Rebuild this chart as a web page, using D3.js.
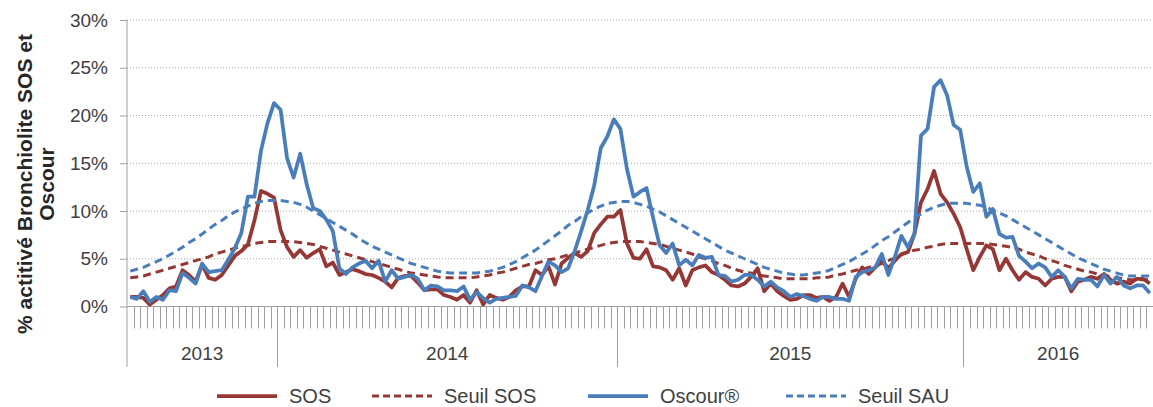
<!DOCTYPE html>
<html>
<head>
<meta charset="utf-8">
<script src="https://cdn.jsdelivr.net/npm/d3@7"></script>
<style>
body { margin: 0; background: #fff; }
svg { display: block; font-family: 'Liberation Sans', Arial, sans-serif; }
</style>
</head>
<body>
<div id="chart"></div>
<script>
// categories: weekly, from 2013-S30 to 2016-S29
const yearLabels = ['2013', '2014', '2015', '2016']
const firstWeeks = [30, 1, 1, 1]
const lastWeeks = [52, 52, 53, 29]
const yTicks = [0, 5, 10, 15, 20, 25, 30]

// % activité bronchiolite
const sos = [
    1.0, 1.0, 0.9, 0.2, 0.7, 1.2, 1.9, 2.1, 3.8, 3.3,
    2.6, 4.4, 3.0, 2.8, 3.3, 4.3, 5.3, 5.8, 6.5, 9.0,
    12.1, 11.8, 11.4, 8.0, 6.2, 5.2, 5.9, 5.1, 5.6, 6.0,
    4.2, 4.6, 3.3, 3.6, 3.9, 3.7, 3.4, 3.3, 3.0, 2.6,
    2.0, 3.0, 3.2, 3.2, 2.5, 1.7, 1.8, 1.8, 1.2, 1.0,
    0.7, 1.2, 0.4, 1.7, 0.2, 1.2, 0.9, 0.7, 1.0, 1.7,
    2.1, 2.1, 3.8, 3.3, 4.2, 2.3, 4.5, 5.1, 5.6, 5.2,
    5.8, 7.7, 8.6, 9.4, 9.4, 10.1, 6.6, 5.1, 5.0, 6.0,
    4.2, 4.1, 3.8, 2.8, 4.0, 2.2, 3.8, 4.1, 4.3, 3.6,
    3.3, 2.8, 2.2, 2.1, 2.4, 3.1, 4.0, 1.6, 2.4, 1.6,
    1.1, 0.7, 0.8, 1.2, 1.2, 0.9, 1.0, 0.6, 1.0, 2.4,
    1.0, 2.9, 4.1, 3.4, 4.1, 4.8, 4.0, 4.8, 5.5, 5.7,
    7.6, 10.9, 12.3, 14.2, 11.8, 10.9, 9.7, 8.3, 6.0, 3.8,
    5.2, 6.4, 6.0, 3.8, 5.0, 3.8, 2.8, 3.6, 3.1, 2.9,
    2.2, 2.9, 3.1, 3.1, 1.6, 2.6, 2.8, 3.1, 2.9, 3.4,
    2.8, 2.4, 2.6, 2.4, 2.9, 2.9, 2.4
]
const seuilSos = [
    3.0, 3.1, 3.2, 3.4, 3.6, 3.8, 4.0, 4.2, 4.4, 4.6,
    4.8, 5.0, 5.2, 5.5, 5.7, 5.9, 6.1, 6.3, 6.4, 6.6,
    6.7, 6.8, 6.8, 6.8, 6.8, 6.8, 6.7, 6.6, 6.5, 6.3,
    6.1, 5.9, 5.7, 5.5, 5.3, 5.1, 4.9, 4.7, 4.5, 4.3,
    4.1, 3.9, 3.7, 3.5, 3.4, 3.3, 3.2, 3.1, 3.0, 3.0,
    3.0, 3.0, 3.0, 3.1, 3.2, 3.3, 3.5, 3.6, 3.8, 4.0,
    4.2, 4.4, 4.5, 4.7, 4.9, 5.0, 5.2, 5.4, 5.6, 5.8,
    6.0, 6.2, 6.4, 6.6, 6.7, 6.8, 6.8, 6.8, 6.8, 6.7,
    6.6, 6.5, 6.3, 6.1, 5.9, 5.7, 5.5, 5.2, 5.0, 4.8,
    4.5, 4.3, 4.0, 3.8, 3.6, 3.5, 3.3, 3.2, 3.1, 3.0,
    2.9, 2.9, 2.9, 2.9, 2.9, 3.0, 3.0, 3.1, 3.3, 3.4,
    3.6, 3.8, 3.9, 4.1, 4.3, 4.5, 4.8, 5.1, 5.4, 5.7,
    5.9, 6.0, 6.2, 6.3, 6.5, 6.6, 6.6, 6.6, 6.6, 6.6,
    6.6, 6.6, 6.5, 6.4, 6.3, 6.2, 6.0, 5.7, 5.5, 5.3,
    5.0, 4.8, 4.6, 4.3, 4.1, 3.9, 3.7, 3.6, 3.4, 3.3,
    3.1, 3.0, 2.9, 2.8, 2.8, 2.8, 2.8
]
const oscour = [
    1.0, 0.8, 1.6, 0.5, 1.0, 0.7, 1.7, 1.6, 3.5, 3.0,
    2.4, 4.5, 3.6, 3.7, 3.8, 4.9, 6.1, 7.7, 11.5, 11.5,
    16.3, 19.2, 21.3, 20.6, 15.5, 13.5, 16.0, 12.8, 10.3, 10.0,
    9.1, 7.9, 4.0, 3.4, 4.1, 4.5, 4.8, 4.0, 4.8, 2.6,
    3.8, 2.9, 3.1, 3.3, 2.9, 1.7, 2.2, 2.1, 1.7, 1.7,
    1.6, 2.1, 0.7, 1.5, 0.9, 0.4, 0.8, 0.9, 1.0, 1.1,
    2.2, 2.0, 1.6, 3.2, 4.7, 4.3, 3.6, 4.0, 5.8, 7.9,
    10.1, 12.7, 16.6, 17.8, 19.6, 18.6, 14.4, 11.5, 12.0, 12.4,
    9.3, 6.4, 5.6, 6.6, 4.3, 4.9, 4.3, 5.4, 5.1, 5.2,
    3.3, 3.2, 2.6, 2.8, 3.3, 3.3, 2.8, 2.1, 2.6, 2.0,
    1.6, 1.0, 1.3, 1.1, 0.8, 0.6, 1.0, 1.0, 0.8, 0.8,
    0.6, 3.1, 3.6, 3.8, 4.1, 5.5, 3.3, 5.2, 7.4, 6.2,
    7.6, 17.9, 18.6, 23.0, 23.7, 22.1, 19.0, 18.5, 14.6, 12.0,
    12.9, 9.4, 10.2, 7.6, 7.2, 7.3, 5.3, 4.7, 4.0, 4.5,
    4.1, 3.1, 3.8, 3.1, 1.9, 2.9, 2.8, 2.8, 2.1, 3.3,
    2.4, 3.1, 2.2, 1.9, 2.2, 2.2, 1.4
]
const seuilSau = [
    3.7, 3.9, 4.1, 4.4, 4.7, 5.0, 5.4, 5.8, 6.2, 6.7,
    7.1, 7.6, 8.1, 8.6, 9.0, 9.5, 9.9, 10.2, 10.5, 10.8,
    11.0, 11.1, 11.1, 11.1, 11.0, 10.9, 10.7, 10.4, 10.0, 9.6,
    9.2, 8.8, 8.4, 8.0, 7.6, 7.1, 6.7, 6.3, 6.0, 5.7,
    5.4, 5.1, 4.8, 4.5, 4.3, 4.1, 3.9, 3.7, 3.6, 3.5,
    3.5, 3.5, 3.5, 3.5, 3.6, 3.7, 3.9, 4.1, 4.4, 4.7,
    5.1, 5.5, 5.9, 6.4, 6.9, 7.4, 7.9, 8.5, 8.9, 9.4,
    9.8, 10.2, 10.5, 10.8, 10.9, 11.0, 11.0, 10.9, 10.7, 10.5,
    10.2, 9.9, 9.5, 9.1, 8.7, 8.3, 7.9, 7.5, 7.1, 6.7,
    6.3, 5.9, 5.6, 5.3, 5.0, 4.7, 4.4, 4.1, 3.9, 3.7,
    3.5, 3.4, 3.3, 3.3, 3.4, 3.5, 3.6, 3.8, 4.1, 4.4,
    4.7, 5.1, 5.5, 5.9, 6.4, 6.9, 7.3, 7.8, 8.3, 8.8,
    9.3, 9.7, 10.1, 10.4, 10.6, 10.8, 10.8, 10.8, 10.8, 10.7,
    10.6, 10.4, 10.1, 9.8, 9.5, 9.1, 8.7, 8.3, 7.9, 7.5,
    7.1, 6.7, 6.3, 5.9, 5.5, 5.1, 4.8, 4.5, 4.2, 3.9,
    3.7, 3.5, 3.3, 3.2, 3.2, 3.2, 3.2
]

const weeks = []
yearLabels.forEach((yr, k) => {
    for (let w = firstWeeks[k]; w <= lastWeeks[k]; w++) weeks.push(yr + '-S' + w)
})

const red = '#953735'
const blue = '#4a7ebb'
const series = [
    { name: 'SOS', values: sos, color: red, dash: null },
    { name: 'Seuil SOS', values: seuilSos, color: red, dash: '8,5' },
    { name: 'Oscour\u00AE', values: oscour, color: blue, dash: null },
    { name: 'Seuil SAU', values: seuilSau, color: blue, dash: '8,5' }
]

const W = 1153, H = 407
const plotLeft = 127, plotRight = 1153, plotTop = 20, plotBottom = 306.5
const axisGrey = '#a0a0a0'

const x = d3.scaleBand().domain(weeks).range([plotLeft, plotRight]).padding(0)
const y = d3.scaleLinear().domain([0, 30]).range([plotBottom, plotTop])

const svg = d3.select('#chart')
    .append('svg')
    .attr('width', W)
    .attr('height', H)

// dotted gridlines
svg.append('g')
    .selectAll('line')
    .data(yTicks.filter(d => d > 0))
    .enter()
    .append('line')
    .attr('x1', plotLeft)
    .attr('x2', plotRight)
    .attr('y1', d => y(d))
    .attr('y2', d => y(d))
    .attr('stroke', '#a6a6a6')
    .attr('stroke-width', 1)
    .attr('stroke-dasharray', '1,2')

// y axis
const yAxis = d3.axisLeft(y).tickValues(yTicks).tickFormat(d => d + '%').tickSize(7).tickSizeOuter(0).tickPadding(12)
const gy = svg.append('g')
    .attr('transform', `translate(${plotLeft},0)`)
    .call(yAxis)
gy.select('.domain').remove()
gy.selectAll('line').attr('stroke', axisGrey)
gy.selectAll('text')
    .style('font-size', '19px')
    .style('font-family', "'Liberation Sans', Arial, sans-serif")
    .attr('fill', '#404040')

svg.append('line')
    .attr('x1', plotLeft).attr('x2', plotLeft)
    .attr('y1', plotTop).attr('y2', 367)
    .attr('stroke', axisGrey)

// x axis: baseline, weekly ticks, year separators and labels
svg.append('line')
    .attr('x1', plotLeft).attr('x2', plotRight)
    .attr('y1', plotBottom).attr('y2', plotBottom)
    .attr('stroke', axisGrey)

svg.append('g')
    .selectAll('line')
    .data(weeks.slice(1))
    .enter()
    .append('line')
    .attr('x1', d => Math.round(x(d)) + 0.5)
    .attr('x2', d => Math.round(x(d)) + 0.5)
    .attr('y1', plotBottom)
    .attr('y2', plotBottom + 22)
    .attr('stroke', axisGrey)

const yearStarts = yearLabels.map((yr, k) => yr + '-S' + firstWeeks[k])
const yearEnds = yearLabels.map((yr, k) => yr + '-S' + lastWeeks[k])

svg.append('g')
    .selectAll('line')
    .data(yearStarts.slice(1))
    .enter()
    .append('line')
    .attr('x1', d => Math.round(x(d)) + 0.5)
    .attr('x2', d => Math.round(x(d)) + 0.5)
    .attr('y1', plotBottom)
    .attr('y2', 367)
    .attr('stroke', axisGrey)

svg.append('g')
    .selectAll('text')
    .data(yearLabels)
    .enter()
    .append('text')
    .attr('x', (d, k) => (x(yearStarts[k]) + x(yearEnds[k]) + x.bandwidth()) / 2)
    .attr('y', 359.5)
    .attr('text-anchor', 'middle')
    .style('font-size', '19px')
    .attr('fill', '#404040')
    .text(d => d)

// y title
const titleLines = ['% actitivé Bronchiolite SOS et', 'Oscour']
svg.append('g')
    .selectAll('text')
    .data(titleLines)
    .enter()
    .append('text')
    .attr('transform', (d, i) => `translate(${32 + i * 21.5},184) rotate(-90)`)
    .attr('text-anchor', 'middle')
    .style('font-size', '21px')
    .style('font-weight', 'bold')
    .attr('fill', '#262626')
    .text(d => d)

// series
const line = d3.line()
    .x((d, i) => x(weeks[i]) + x.bandwidth() / 2)
    .y(d => y(d))

svg.append('g')
    .selectAll('path')
    .data(series)
    .enter()
    .append('path')
    .attr('d', d => line(d.values))
    .attr('fill', 'none')
    .attr('stroke', d => d.color)
    .attr('stroke-width', d => d.dash ? 3 : 3.75)
    .attr('stroke-dasharray', d => d.dash)
    .attr('stroke-linejoin', 'round')

// legend
const legendX = [217, 372, 588, 786]
const legend = svg.append('g')
    .selectAll('g')
    .data(series)
    .enter()
    .append('g')
    .attr('transform', (d, i) => `translate(${legendX[i]},396)`)
legend.append('line')
    .attr('x1', 0).attr('x2', 60)
    .attr('stroke', d => d.color)
    .attr('stroke-width', d => d.dash ? 3 : 3.75)
    .attr('stroke-dasharray', d => d.dash ? '7,4' : null)
legend.append('text')
    .attr('x', 72)
    .attr('y', 6.5)
    .style('font-size', '20px')
    .attr('fill', '#404040')
    .text(d => d.name)
</script>
</body>
</html>
